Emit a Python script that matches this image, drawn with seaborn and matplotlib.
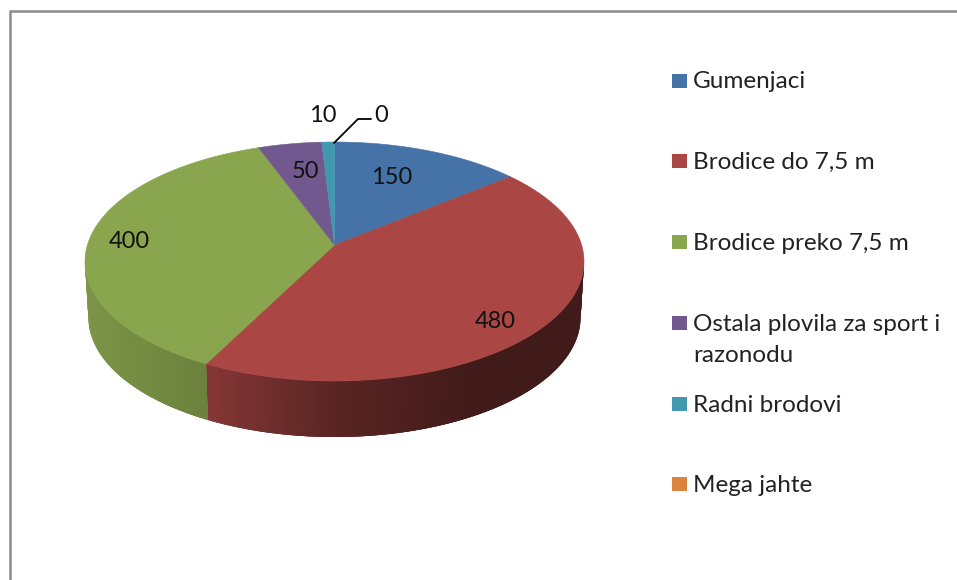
import numpy as np
import seaborn as sns
import matplotlib.pyplot as plt
from matplotlib.colors import to_rgb

categories = ["Gumenjaci", "Brodice do 7,5 m", "Brodice preko 7,5 m",
              "Ostala plovila za sport i\nrazonodu", "Radni brodovi", "Mega jahte"]
values = [150, 480, 400, 50, 10, 0]
colors = ["#4573a7", "#aa4644", "#89a54e", "#71588f", "#4298af", "#db843d"]

sns.set_theme(style="white")
plt.rcParams["font.family"] = ["Lato", "DejaVu Sans"]

fig = plt.figure(figsize=(9.57, 5.8), dpi=100)
ax = fig.add_axes([0, 0, 1, 1])

# chart frame, right and bottom run off the picture
ax.plot([9.5, 9.5, 957], [580, 10.5, 10.5], color="#8c8c8c", lw=1.8, solid_joinstyle="miter")

# 3D pie geometry, in pixels
cx, cy, rx, ry = 334.5, 261.5, 249.5, 119.5
apex_y = 245
wall_h, wall_rx = 56, 246


def warp(deg):
    # perspective shift of the slice angles, clockwise from the top
    return np.radians(deg - 6.2 * np.sin(np.radians(deg)))


def wall_shade(x):
    return np.interp(x, [85, 204, 334, 470, 584], [0.90, 0.78, 0.52, 0.38, 0.38])


edges = np.cumsum([0] + values) / sum(values) * 360

# side wall first, thin overlapping strips for the gradient
for i, col in enumerate(colors):
    start, end = edges[i], edges[i + 1]
    if end == start:
        continue
    steps = np.append(np.arange(start, end, 0.5), end)
    base = np.array(to_rgb(col))
    for a, b in zip(steps[:-1], steps[1:]):
        if np.cos(warp((a + b) / 2)) > 0.02:
            continue
        arc = warp(np.linspace(max(a - 1, start), b, 5))
        xs = np.r_[cx + rx * np.sin(arc), cx + wall_rx * np.sin(arc[::-1])]
        ys = np.r_[cy - ry * np.cos(arc), cy + wall_h - ry * np.cos(arc[::-1])]
        shade = base * wall_shade(cx + rx * np.sin(warp((a + b) / 2)))
        ax.fill(xs, ys, color=shade, lw=0, zorder=2)

# top face
for i, col in enumerate(colors):
    if values[i] == 0:
        continue
    arc = warp(np.linspace(edges[i], edges[i + 1], 120))
    xs = np.r_[cx, cx + rx * np.sin(arc)]
    ys = np.r_[apex_y, cy - ry * np.cos(arc)]
    ax.fill(xs, ys, color=col, lw=0.4, zorder=3)

# value labels
label_x = [392, 495, 129, 305, 323, 381]
label_y = [178, 322, 242, 172, 116, 115]
for v, x, y in zip(values, label_x, label_y):
    ax.text(x, y, str(v), ha="center", va="center", fontsize=17, color="#111111", zorder=5)

# leader line for the zero slice
ax.plot([334, 358, 371], [143, 119, 119], color="black", lw=1.3, zorder=4)

# legend
legend_y = [81, 161, 242, 323, 404, 484]
sns.scatterplot(x=[679.5] * len(categories), y=legend_y, hue=categories, palette=colors,
                marker="s", s=105, linewidth=0, legend=False, ax=ax, zorder=5)
for name, y in zip(categories, legend_y):
    if "\n" in name:
        ax.text(693, y - 9, name, ha="left", va="top", fontsize=17.5, color="#222222", linespacing=1.56)
    else:
        ax.text(693, y + 1, name, ha="left", va="center", fontsize=17.5, color="#222222")

ax.set_xlim(0, 957)
ax.set_ylim(580, 0)
ax.axis("off")

fig.savefig("out.png", dpi=100, facecolor="white")
